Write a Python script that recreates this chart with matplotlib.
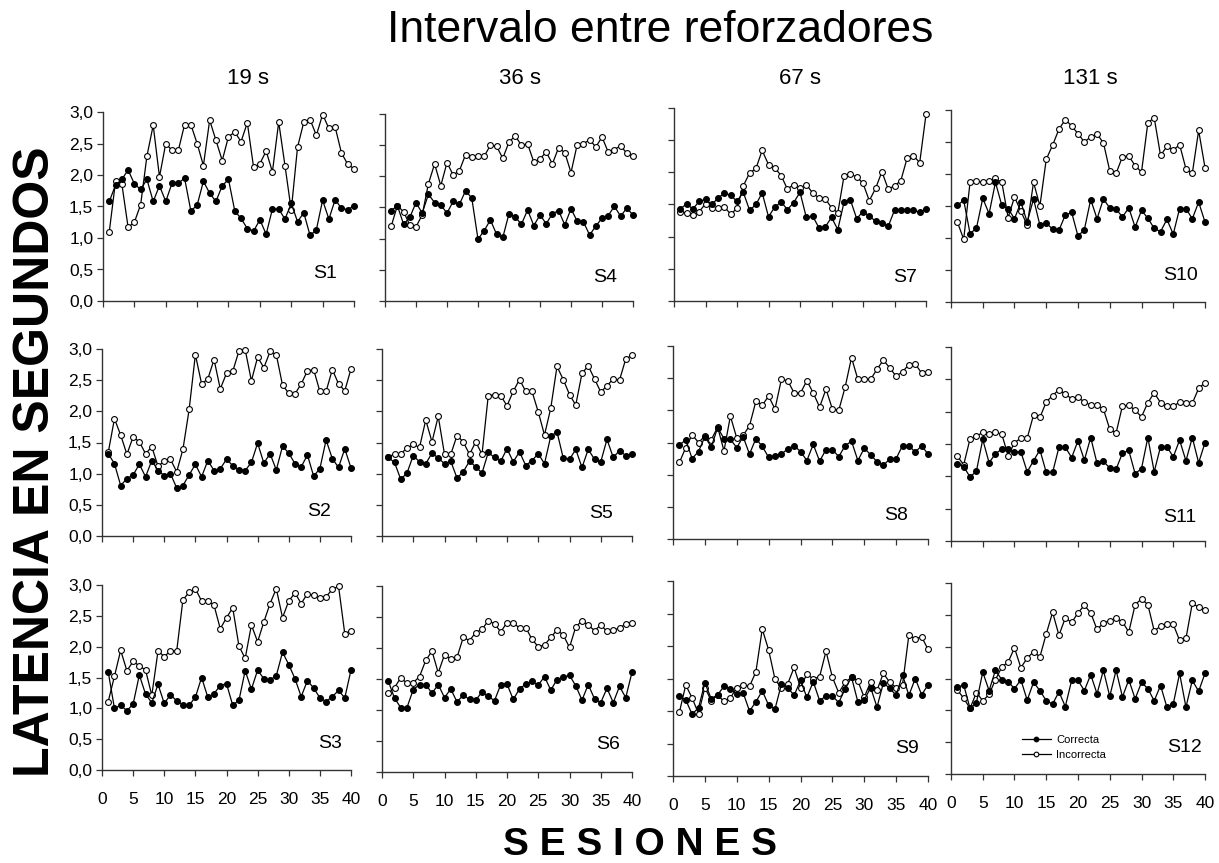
import matplotlib
matplotlib.use("Agg")
import matplotlib.pyplot as plt
import numpy as np

plt.rcParams['font.family'] = ['Liberation Sans', 'DejaVu Sans']

sesiones = list(range(1, 41))
intervalos = ["19 s", "36 s", "67 s", "131 s"]
etiquetas_x = [0, 5, 10, 15, 20, 25, 30, 35, 40]
etiquetas_y = [0.0, 0.5, 1.0, 1.5, 2.0, 2.5, 3.0]

# Latencias por sujeto (segundos): respuestas correctas e incorrectas
s1_correcta = [1.58, 1.84, 1.93, 2.08, 1.86, 1.77, 1.93, 1.58, 1.83, 1.58, 1.87, 1.87, 1.95, 1.43, 1.52, 1.90, 1.71, 1.58, 1.83, 1.93,
               1.43, 1.31, 1.15, 1.11, 1.29, 1.06, 1.46, 1.46, 1.30, 1.55, 1.26, 1.40, 1.04, 1.13, 1.60, 1.30, 1.61, 1.47, 1.45, 1.51]
s1_incorrecta = [1.10, 1.90, 1.86, 1.17, 1.25, 1.53, 2.30, 2.79, 1.97, 2.50, 2.39, 2.39, 2.80, 2.80, 2.50, 2.15, 2.87, 2.55, 2.23, 2.61,
                 2.68, 2.53, 2.83, 2.12, 2.18, 2.38, 2.05, 2.84, 2.15, 1.44, 2.44, 2.84, 2.88, 2.63, 2.96, 2.74, 2.76, 2.35, 2.17, 2.10]

s4_correcta = [1.45, 1.53, 1.23, 1.34, 1.58, 1.41, 1.71, 1.58, 1.54, 1.41, 1.60, 1.55, 1.77, 1.65, 0.99, 1.13, 1.30, 1.07, 1.02, 1.40,
               1.35, 1.23, 1.46, 1.21, 1.38, 1.24, 1.40, 1.45, 1.22, 1.48, 1.28, 1.27, 1.06, 1.20, 1.33, 1.37, 1.52, 1.36, 1.49, 1.38]
s4_incorrecta = [1.20, 1.53, 1.43, 1.22, 1.19, 1.38, 1.88, 2.20, 1.85, 2.22, 2.02, 2.09, 2.35, 2.31, 2.32, 2.32, 2.50, 2.48, 2.29, 2.55,
                 2.65, 2.50, 2.52, 2.23, 2.28, 2.39, 2.20, 2.46, 2.38, 2.06, 2.51, 2.52, 2.59, 2.47, 2.63, 2.39, 2.43, 2.49, 2.37, 2.32]

s7_correcta = [1.43, 1.51, 1.43, 1.55, 1.58, 1.50, 1.60, 1.68, 1.64, 1.55, 1.69, 1.41, 1.50, 1.68, 1.31, 1.46, 1.54, 1.42, 1.53, 1.69,
               1.30, 1.32, 1.14, 1.15, 1.30, 1.11, 1.54, 1.57, 1.28, 1.39, 1.32, 1.24, 1.21, 1.16, 1.41, 1.42, 1.42, 1.41, 1.38, 1.43]
s7_incorrecta = [1.39, 1.37, 1.33, 1.39, 1.51, 1.44, 1.44, 1.46, 1.35, 1.44, 1.79, 1.99, 2.06, 2.34, 2.12, 2.07, 1.95, 1.74, 1.81, 1.75,
                 1.81, 1.68, 1.60, 1.59, 1.45, 1.37, 1.95, 1.97, 1.93, 1.83, 1.56, 1.75, 2.01, 1.74, 1.79, 1.87, 2.22, 2.26, 2.15, 2.90]

s10_correcta = [1.51, 1.59, 1.07, 1.15, 1.62, 1.38, 1.87, 1.51, 1.46, 1.30, 1.56, 1.25, 1.61, 1.20, 1.23, 1.14, 1.12, 1.36, 1.40, 1.03,
                1.13, 1.60, 1.30, 1.61, 1.47, 1.45, 1.33, 1.47, 1.17, 1.43, 1.31, 1.15, 1.10, 1.29, 1.06, 1.46, 1.46, 1.30, 1.56, 1.25]
s10_incorrecta = [1.25, 0.98, 1.87, 1.89, 1.87, 1.89, 1.93, 1.87, 1.32, 1.64, 1.42, 1.20, 1.87, 1.50, 2.23, 2.45, 2.70, 2.85, 2.75, 2.63,
                  2.50, 2.58, 2.62, 2.49, 2.05, 2.01, 2.27, 2.28, 2.13, 2.03, 2.80, 2.88, 2.29, 2.43, 2.37, 2.46, 2.08, 2.01, 2.68, 2.10]

s2_correcta = [1.32, 1.16, 0.81, 0.92, 0.98, 1.15, 0.95, 1.21, 1.05, 0.97, 1.00, 0.77, 0.81, 0.98, 1.15, 0.95, 1.21, 1.05, 1.08, 1.23,
               1.13, 1.06, 1.05, 1.18, 1.49, 1.17, 1.32, 1.06, 1.44, 1.33, 1.16, 1.11, 1.30, 0.96, 1.08, 1.54, 1.24, 1.10, 1.40, 1.09]
s2_incorrecta = [1.34, 1.88, 1.62, 1.31, 1.59, 1.51, 1.32, 1.43, 1.12, 1.20, 1.23, 1.03, 1.39, 2.03, 2.91, 2.44, 2.52, 2.83, 2.36, 2.61,
                 2.64, 2.97, 2.99, 2.49, 2.87, 2.70, 2.96, 2.91, 2.42, 2.29, 2.28, 2.44, 2.65, 2.67, 2.32, 2.32, 2.67, 2.44, 2.33, 2.68]

s5_correcta = [1.26, 1.18, 0.91, 1.01, 1.29, 1.19, 1.16, 1.33, 1.25, 1.16, 1.20, 0.93, 1.03, 1.20, 1.11, 1.01, 1.34, 1.26, 1.20, 1.40,
               1.19, 1.35, 1.13, 1.21, 1.32, 1.16, 1.60, 1.67, 1.25, 1.23, 1.39, 1.10, 1.39, 1.23, 1.19, 1.55, 1.26, 1.37, 1.29, 1.32]
s5_incorrecta = [1.26, 1.32, 1.32, 1.41, 1.47, 1.42, 1.86, 1.51, 1.92, 1.31, 1.31, 1.61, 1.51, 1.31, 1.51, 1.31, 2.25, 2.27, 2.25, 2.09,
                 2.32, 2.51, 2.32, 2.32, 1.99, 1.62, 2.05, 2.72, 2.51, 2.27, 2.10, 2.61, 2.73, 2.52, 2.31, 2.41, 2.52, 2.50, 2.84, 2.90]

s8_correcta = [1.46, 1.54, 1.25, 1.36, 1.59, 1.43, 1.73, 1.56, 1.55, 1.42, 1.59, 1.32, 1.56, 1.44, 1.27, 1.29, 1.32, 1.40, 1.45, 1.36,
               1.22, 1.47, 1.21, 1.39, 1.39, 1.28, 1.45, 1.52, 1.22, 1.41, 1.31, 1.20, 1.15, 1.24, 1.25, 1.45, 1.45, 1.35, 1.45, 1.32]
s8_incorrecta = [1.19, 1.42, 1.62, 1.50, 1.60, 1.54, 1.74, 1.37, 1.91, 1.57, 1.61, 1.76, 2.14, 2.08, 2.22, 2.02, 2.48, 2.46, 2.27, 2.27,
                 2.46, 2.27, 2.05, 2.33, 2.02, 2.00, 2.36, 2.82, 2.48, 2.49, 2.48, 2.64, 2.78, 2.66, 2.53, 2.60, 2.71, 2.72, 2.58, 2.60]

s11_correcta = [1.19, 1.15, 0.99, 1.08, 1.57, 1.21, 1.35, 1.42, 1.43, 1.37, 1.38, 1.07, 1.24, 1.41, 1.06, 1.06, 1.45, 1.45, 1.29, 1.55,
                1.25, 1.60, 1.20, 1.23, 1.13, 1.11, 1.36, 1.40, 1.04, 1.12, 1.60, 1.07, 1.46, 1.46, 1.30, 1.56, 1.24, 1.60, 1.21, 1.52]
s11_incorrecta = [1.31, 1.18, 1.58, 1.62, 1.68, 1.65, 1.68, 1.65, 1.32, 1.52, 1.59, 1.59, 1.95, 1.91, 2.15, 2.25, 2.34, 2.27, 2.20, 2.22,
                  2.15, 2.10, 2.10, 2.04, 1.73, 1.67, 2.09, 2.10, 2.02, 1.92, 2.14, 2.29, 2.14, 2.08, 2.08, 2.15, 2.14, 2.13, 2.36, 2.45]

s3_correcta = [1.59, 1.00, 1.05, 0.96, 1.07, 1.54, 1.23, 1.09, 1.39, 1.08, 1.22, 1.12, 1.06, 1.05, 1.18, 1.50, 1.18, 1.24, 1.37, 1.40,
               1.05, 1.13, 1.61, 1.31, 1.62, 1.48, 1.46, 1.53, 1.91, 1.71, 1.48, 1.19, 1.45, 1.33, 1.17, 1.11, 1.19, 1.29, 1.17, 1.62]
s3_incorrecta = [1.11, 1.52, 1.94, 1.61, 1.76, 1.69, 1.62, 1.21, 1.93, 1.84, 1.93, 1.93, 2.76, 2.88, 2.94, 2.74, 2.74, 2.67, 2.29, 2.47,
                 2.63, 2.01, 1.81, 2.35, 2.08, 2.40, 2.70, 2.94, 2.47, 2.74, 2.87, 2.70, 2.86, 2.83, 2.79, 2.81, 2.93, 2.98, 2.21, 2.26]

s6_correcta = [1.47, 1.19, 1.04, 1.04, 1.33, 1.41, 1.41, 1.27, 1.41, 1.20, 1.34, 1.13, 1.24, 1.17, 1.16, 1.29, 1.22, 1.15, 1.41, 1.42,
               1.17, 1.34, 1.42, 1.46, 1.40, 1.54, 1.32, 1.49, 1.53, 1.56, 1.39, 1.16, 1.41, 1.18, 1.12, 1.35, 1.12, 1.38, 1.20, 1.61]
s6_incorrecta = [1.27, 1.36, 1.52, 1.43, 1.44, 1.54, 1.80, 1.95, 1.60, 1.89, 1.82, 1.85, 2.17, 2.12, 2.25, 2.30, 2.44, 2.39, 2.26, 2.41,
                 2.41, 2.32, 2.33, 2.14, 2.02, 2.05, 2.17, 2.29, 2.21, 2.01, 2.34, 2.44, 2.37, 2.28, 2.37, 2.27, 2.29, 2.32, 2.39, 2.41]

s9_correcta = [1.23, 1.17, 0.95, 1.05, 1.43, 1.19, 1.25, 1.38, 1.34, 1.26, 1.28, 1.00, 1.14, 1.31, 1.09, 1.03, 1.41, 1.36, 1.24, 1.47,
               1.21, 1.45, 1.16, 1.23, 1.23, 1.13, 1.34, 1.52, 1.14, 1.17, 1.36, 1.06, 1.43, 1.35, 1.24, 1.56, 1.24, 1.50, 1.25, 1.40]
s9_incorrecta = [0.98, 1.40, 1.20, 0.96, 1.36, 1.16, 1.24, 1.15, 1.20, 1.36, 1.40, 1.38, 1.60, 2.26, 1.94, 1.49, 1.35, 1.42, 1.67, 1.36,
                 1.57, 1.49, 1.53, 1.92, 1.52, 1.28, 1.44, 1.52, 1.46, 1.21, 1.45, 1.32, 1.58, 1.44, 1.36, 1.40, 2.17, 2.11, 2.14, 1.95]

s12_correcta = [1.36, 1.40, 1.03, 1.12, 1.60, 1.31, 1.63, 1.48, 1.45, 1.34, 1.48, 1.16, 1.44, 1.31, 1.15, 1.10, 1.29, 1.06, 1.47, 1.47,
                1.31, 1.56, 1.26, 1.63, 1.22, 1.63, 1.21, 1.48, 1.18, 1.44, 1.34, 1.15, 1.39, 1.05, 1.10, 1.58, 1.05, 1.47, 1.30, 1.58]
s12_incorrecta = [1.32, 1.19, 1.03, 1.28, 1.15, 1.25, 1.48, 1.68, 1.76, 1.98, 1.67, 1.82, 1.92, 1.84, 2.20, 2.54, 2.18, 2.45, 2.38, 2.53,
                  2.65, 2.53, 2.27, 2.37, 2.41, 2.45, 2.39, 2.23, 2.66, 2.75, 2.66, 2.25, 2.32, 2.35, 2.35, 2.10, 2.13, 2.68, 2.62, 2.57]

# filas = sujetos dentro de cada intervalo; columnas = intervalo entre reforzadores
paneles = [
    [("S1", s1_correcta, s1_incorrecta), ("S4", s4_correcta, s4_incorrecta),
     ("S7", s7_correcta, s7_incorrecta), ("S10", s10_correcta, s10_incorrecta)],
    [("S2", s2_correcta, s2_incorrecta), ("S5", s5_correcta, s5_incorrecta),
     ("S8", s8_correcta, s8_incorrecta), ("S11", s11_correcta, s11_incorrecta)],
    [("S3", s3_correcta, s3_incorrecta), ("S6", s6_correcta, s6_incorrecta),
     ("S9", s9_correcta, s9_incorrecta), ("S12", s12_correcta, s12_incorrecta)],
]

W, H = 1219, 863
fig = plt.figure(figsize=(W / 100, H / 100), dpi=100)
fig.patch.set_facecolor("white")

# marco de cada panel en pixeles: (x sesion 0, x sesion 40, y de 3,0, y de 0,0)
marcos = [
    [(103, 354, 112, 301), (385, 633, 114, 301), (674, 926, 108, 301), (951, 1205, 110, 302)],
    [(102, 351, 349, 536), (382, 632, 349, 536), (673, 928, 346, 539), (951, 1205, 347, 541)],
    [(102, 351, 585, 770), (382, 632, 586, 772), (673, 928, 581, 776), (951, 1205, 583, 774)],
]
# posicion (pixeles) del rotulo de cada sujeto
rotulos = [
    [(325, 273), (605, 277), (905, 278), (1180, 275)],
    [(319, 512), (601, 513), (896, 516), (1180, 517)],
    [(330, 743), (608, 744), (907, 748), (1185, 747)],
]

def coma(v, pos=None):
    return f"{v:.1f}".replace(".", ",")

for r in range(3):
    for c in range(4):
        x0, x1, yt, yb = marcos[r][c]
        ax = fig.add_axes([x0 / W, 1 - yb / H, (x1 - x0) / W, (yb - yt) / H])
        nombre, corr, inc = paneles[r][c]
        ax.plot(sesiones, inc, "-o", color="black", lw=0.9, ms=4.2,
                mfc="white", mec="black", mew=0.8, clip_on=False, zorder=3,
                label="Incorrecta")
        ax.plot(sesiones, corr, "-o", color="black", lw=0.9, ms=4.2,
                mfc="black", mec="black", mew=0.8, clip_on=False, zorder=4,
                label="Correcta")
        ax.set_xlim(0, 40)
        ax.set_ylim(0, 3)
        ax.set_xticks(etiquetas_x)
        ax.set_yticks(etiquetas_y)
        for s in ("top", "right"):
            ax.spines[s].set_visible(False)
        for s in ("left", "bottom"):
            ax.spines[s].set_linewidth(1.0)
            ax.spines[s].set_color("#333333")
        ax.tick_params(direction="out", length=4, width=0.9, color="#333333",
                       labelsize=12.5)
        ax.tick_params(axis="y", pad=3)
        ax.tick_params(axis="x", pad=12)
        if c == 0:
            ax.set_yticklabels([coma(v) for v in etiquetas_y])
        else:
            ax.set_yticklabels([])
        if r == 2:
            ax.set_xticklabels([str(v) for v in etiquetas_x])
        else:
            ax.set_xticklabels([])
        px, py = rotulos[r][c]
        fig.text(px / W, 1 - py / H, nombre, ha="center", va="center", fontsize=14)
        if r == 2 and c == 3:
            h, l = ax.get_legend_handles_labels()
            ax.legend(h[::-1], l[::-1], loc="lower left", bbox_to_anchor=(0.24, 0.02),
                      frameon=False, fontsize=8, handlelength=2.6, handletextpad=0.5,
                      labelspacing=0.45, markerscale=0.8)

fig.text(660 / W, 1 - 30 / H, "Intervalo entre reforzadores", ha="center",
         va="center", fontsize=32)
for texto, xc in zip(intervalos, [248, 520, 800, 1090]):
    fig.text(xc / W, 1 - 78 / H, texto, ha="center", va="center", fontsize=16)

fig.text(36 / W, 1 - 462 / H, "LATENCIA EN SEGUNDOS", rotation=90, ha="center",
         va="center", fontsize=36, fontweight="bold")
fig.text(640 / W, 1 - 845 / H, "S E S I O N E S", ha="center", va="center",
         fontsize=28, fontweight="bold")

fig.savefig("out.png", dpi=100, facecolor="white")
